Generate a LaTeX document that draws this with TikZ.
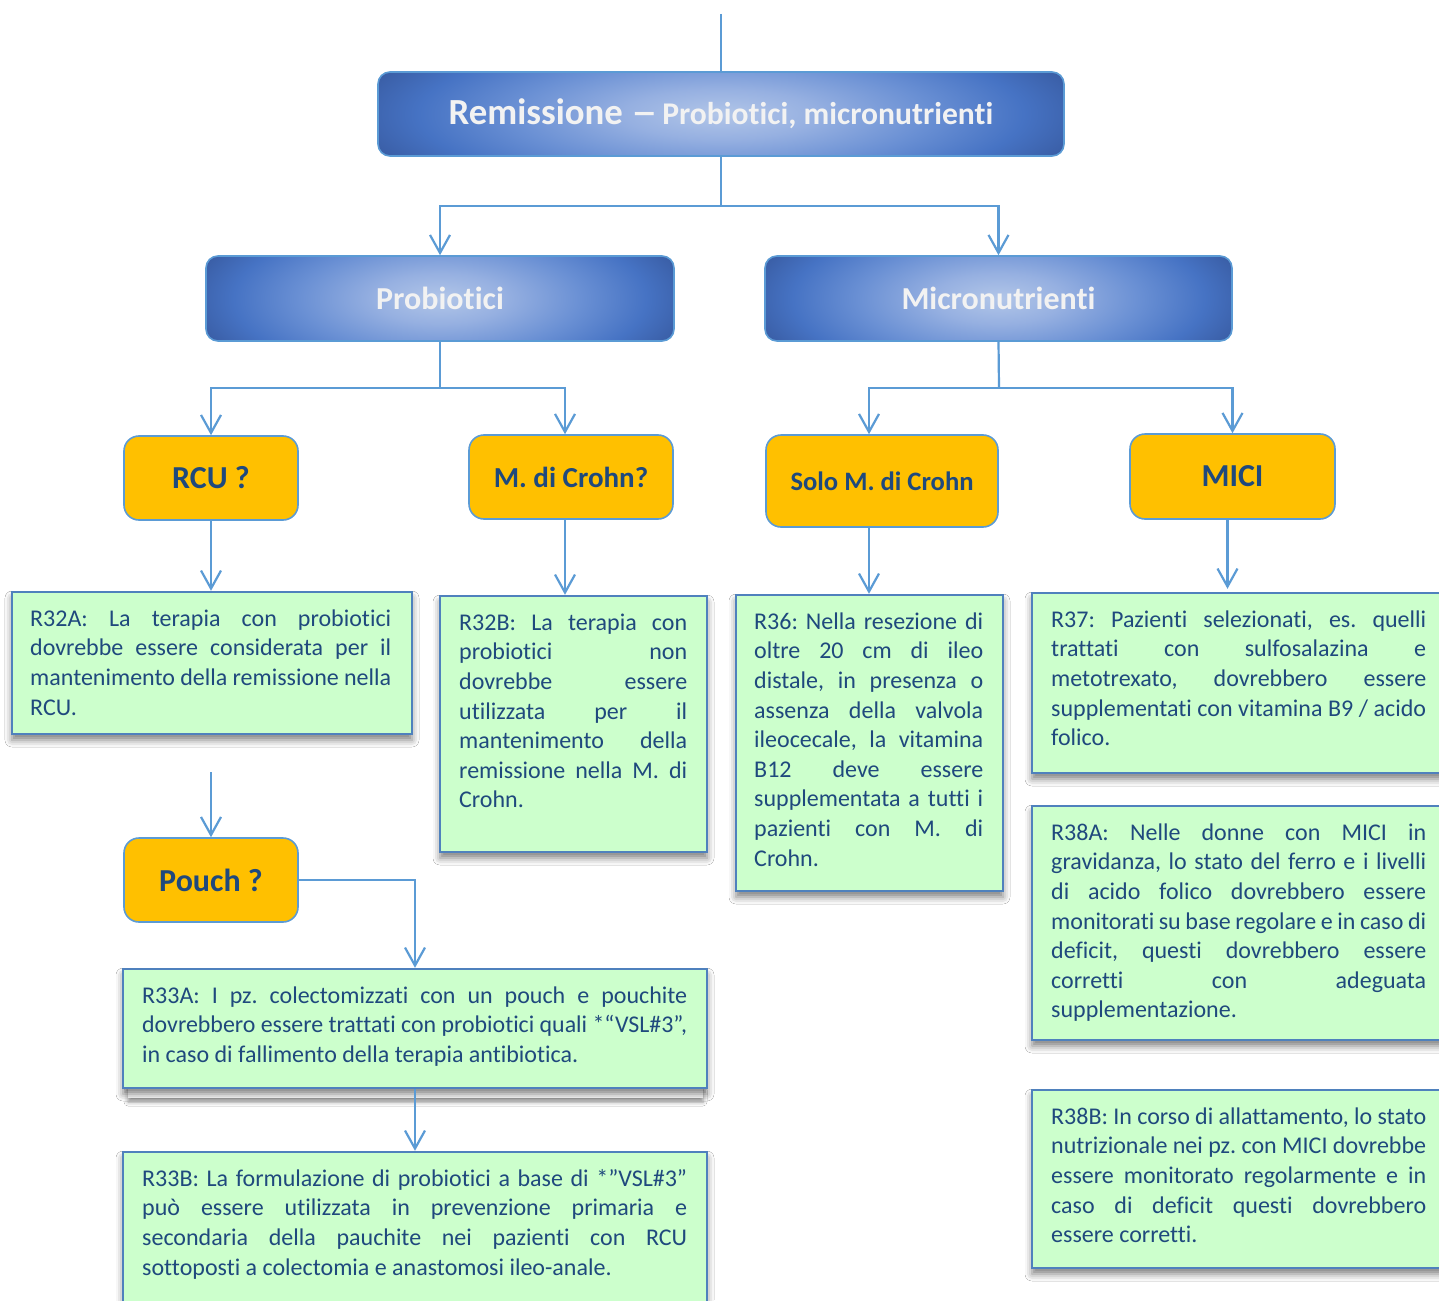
\documentclass[tikz,border=0pt]{standalone}
\usepackage{fontspec}
\usepackage{graphicx}
\setmainfont{Carlito}[Ligatures={NoCommon,NoContextual},Contextuals=NoAlternate]
\usetikzlibrary{arrows.meta,fit,shadows.blur}
\frenchspacing

\definecolor{linkc}{HTML}{5B9BD5}
\definecolor{gfill}{HTML}{CCFFCC}
\definecolor{gdraw}{HTML}{4F81BD}
\definecolor{ofill}{HTML}{FFC000}
\definecolor{txtc}{HTML}{1F497D}
\definecolor{titlec}{HTML}{F2F2F2}

% light centre fading to dark blue edges (box edge sits at about 35bp)
\pgfdeclareradialshading{glowbox}{\pgfpoint{0bp}{0bp}}{%
  color(0bp)=(rgb,255:red,178;green,198;blue,232);
  color(7bp)=(rgb,255:red,150;green,176;blue,225);
  color(15bp)=(rgb,255:red,106;green,144;blue,212);
  color(22bp)=(rgb,255:red,70;green,115;blue,196);
  color(27bp)=(rgb,255:red,58;green,94;blue,166);
  color(32bp)=(rgb,255:red,44;green,74;blue,134);
  color(75bp)=(rgb,255:red,40;green,68;blue,124)}

\newcommand{\greenfont}{\fontsize{12}{14.8}\selectfont\spaceskip=0.226em plus 0.35em minus 0.09em\relax}

\begin{document}
\begin{tikzpicture}[x=0.5pt,y=-0.5pt,
  link/.style={draw=linkc, line width=1.1pt},
  arr/.style={link, -{Straight Barb[length=9pt,width=10pt]}},
  bluebox/.style={draw=linkc, line width=0.8pt, rounded corners=6pt,
    fill={rgb,255:red,40;green,68;blue,124},
    path picture={\shade[shading=glowbox]
      ([yshift=24pt]path picture bounding box.north west) rectangle
      ([yshift=-24pt]path picture bounding box.south east);},
    text=titlec, font=\bfseries, inner sep=0pt},
  obox/.style={draw=linkc, line width=0.8pt, rounded corners=7.5pt, fill=ofill,
    text=txtc, font=\bfseries, inner sep=0pt},
  gbox/.style={draw=gdraw, line width=1.2pt, fill=gfill, inner sep=0pt,
    blur shadow={shadow xshift=0pt, shadow yshift=-3pt, shadow blur radius=3.5pt, shadow opacity=50}},
  gtext/.style={anchor=north west, inner sep=0pt, align=justify, text=txtc,
    font=\greenfont},
]
\useasboundingbox (0,0) rectangle (1439,1300);
\fill[white] (0,0) rectangle (1439,1300);
\clip (0,0) rectangle (1439,1300);

% ---- top level
\node[bluebox, minimum width=343pt, minimum height=42pt] (title) at (721,114)
  {{\fontsize{18.4}{21}\selectfont Remissione \scalebox{1.45}[1]{–}} {\fontsize{15.8}{18}\selectfont Probiotici, micronutrienti}};
\node[bluebox, minimum width=234pt, minimum height=42.5pt, font=\bfseries\fontsize{16}{19}\selectfont]
  (prob) at (440,298.5) {Probiotici};
\node[bluebox, minimum width=233.5pt, minimum height=42.5pt, font=\bfseries\fontsize{16}{19}\selectfont]
  (micro) at (998.5,298.5) {Micronutrienti};

% ---- questions
\node[obox, minimum width=87pt, minimum height=42pt, font=\bfseries\fontsize{16}{19}\selectfont]
  (rcu) at (211,478) {RCU ?};
\node[obox, minimum width=102pt, minimum height=42pt, font=\bfseries\fontsize{14.5}{17}\selectfont]
  (mdc) at (571,477) {M. di Crohn?};
\node[obox, minimum width=116pt, minimum height=46pt, font=\bfseries\fontsize{13.3}{16}\selectfont]
  (solo) at (882,481) {Solo M. di Crohn};
\node[obox, minimum width=102.5pt, minimum height=42.5pt, font=\bfseries\fontsize{16}{19}\selectfont]
  (mici) at (1232.5,476.5) {MICI};
\node[obox, minimum width=87pt, minimum height=42pt, font=\bfseries\fontsize{16}{19}\selectfont]
  (pouch) at (211,880) {Pouch ?};

% ---- recommendations
\node[gbox, fit={(12,592) (412,734)}] (r32a) {};
\node[gtext, text width=180.5pt] (r32a-t) at ([xshift=9.5pt,yshift=-7.2pt]r32a.north west)
  {\strut R32A: La terapia con probiotici\linebreak
   dovrebbe essere considerata per il\linebreak
   mantenimento della remissione nella\linebreak
   RCU.};

\node[gbox, fit={(440,596) (707,852)}] (r32b) {};
\node[gtext, text width=114pt] (r32b-t) at ([xshift=10pt,yshift=-7.2pt]r32b.north west)
  {\strut R32B: La terapia con\linebreak
   probiotici non\linebreak
   dovrebbe essere\linebreak
   utilizzata per il\linebreak
   mantenimento della\linebreak
   remissione nella M. di\linebreak
   Crohn.};

\node[gbox, fit={(736,595) (1003,891)}] (r36) {};
\node[gtext, text width=114.5pt] (r36-t) at ([xshift=9.5pt,yshift=-7.2pt]r36.north west)
  {\strut R36: Nella resezione di\linebreak
   oltre 20 cm di ileo\linebreak
   distale, in presenza o\linebreak
   assenza della valvola\linebreak
   ileocecale, la vitamina\linebreak
   B12 deve essere\linebreak
   supplementata a tutti i\linebreak
   pazienti con M. di\linebreak
   Crohn.};

\node[gbox, fit={(1032,593) (1460,773)}] (r37) {};
\node[gtext, text width=187.5pt] (r37-t) at ([xshift=10pt,yshift=-7.2pt]r37.north west)
  {\strut R37: Pazienti selezionati, es. quelli\linebreak
   trattati con sulfosalazina e\linebreak
   metotrexato, dovrebbero essere\linebreak
   supplementati con vitamina B9 / acido\linebreak
   folico.};

\node[gbox, fit={(1032,806) (1460,1040)}] (r38a) {};
\node[gtext, text width=187.5pt] (r38a-t) at ([xshift=10pt,yshift=-7.2pt]r38a.north west)
  {\strut R38A: Nelle donne con MICI in\linebreak
   gravidanza, lo stato del ferro e i livelli\linebreak
   di acido folico dovrebbero essere\linebreak
   monitorati su base regolare e in caso di\linebreak
   deficit, questi dovrebbero essere\linebreak
   corretti con adeguata\linebreak
   supplementazione.};

\node[gbox, fit={(1032,1090) (1460,1268)}] (r38b) {};
\node[gtext, text width=187.5pt] (r38b-t) at ([xshift=10pt,yshift=-7.2pt]r38b.north west)
  {\strut R38B: In corso di allattamento, lo stato\linebreak
   nutrizionale nei pz. con MICI dovrebbe\linebreak
   essere monitorato regolarmente e in\linebreak
   caso di deficit questi dovrebbero\linebreak
   essere corretti.};

% thin white strip tucked under R33A
\fill[white, blur shadow={shadow xshift=0pt, shadow yshift=-2pt, shadow blur radius=2pt, shadow opacity=40}]
  (128,1086) rectangle (703,1098);

\node[gbox, fit={(123,969) (707,1088)}] (r33a) {};
\node[gtext, text width=272.5pt] (r33a-t) at ([xshift=10pt,yshift=-7.2pt]r33a.north west)
  {\strut R33A: I pz. colectomizzati con un pouch e pouchite\linebreak
   \resizebox{\linewidth}{\height}{dovrebbero essere trattati con probiotici quali *“VSL\#3”,}\linebreak
   in caso di fallimento della terapia antibiotica.};

\node[gbox, fit={(123,1152) (707,1320)}] (r33b) {};
\node[gtext, text width=272.5pt] (r33b-t) at ([xshift=10pt,yshift=-7.2pt]r33b.north west)
  {\strut R33B: La formulazione di probiotici a base di *”VSL\#3”\linebreak
   può essere utilizzata in prevenzione primaria e\linebreak
   secondaria della pauchite nei pazienti con RCU\linebreak
   sottoposti a colectomia e anastomosi ileo-anale.};

% ---- connectors
\coordinate (in0) at (721,14);
\coordinate (j1) at (721,206);
\coordinate (j2) at (440,388);
\coordinate (j3) at (999,388);
\coordinate (pin) at (211,772);

\draw[link] (in0) -- (title.north);
\draw[link] (title.south) -- (j1);
\draw[arr] (j1) -| (prob.north);
\draw[arr] (j1) -| (micro.north);

\draw[link] (prob.south) -- (j2);
\draw[arr] (j2) -| (rcu.north);
\draw[arr] (j2) -| ([xshift=-3pt]mdc.north);

\draw[link] (micro.south) -- (j3);
\draw[arr] (j3) -| ([xshift=-6.5pt]solo.north);
\draw[arr] (j3) -| (mici.north);

\draw[arr] (rcu.south) -- (rcu.south |- r32a.north);
\draw[arr] ([xshift=-3pt]mdc.south) -- ([xshift=-3pt]mdc.south |- r32b.north);
\draw[arr] ([xshift=-6.5pt]solo.south) -- ([xshift=-6.5pt]solo.south |- r36.north);
\draw[arr] ([xshift=-2.5pt]mici.south) -- ([xshift=-2.5pt,yshift=1.5pt]mici.south |- r37.north);

\draw[arr] (pin) -- (pouch.north);
\draw[arr] (pouch.east) -| (r33a.north);
\draw[arr] (r33a.south) -- (r33b.north);
\end{tikzpicture}
\end{document}
